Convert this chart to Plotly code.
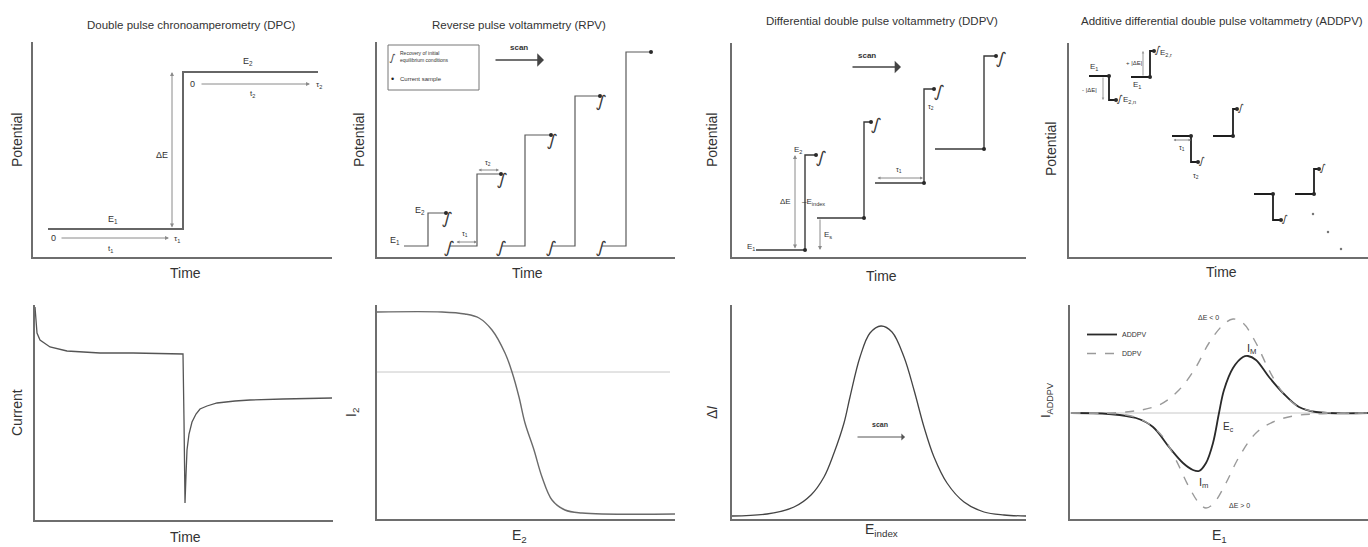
import plotly.graph_objects as go

W, H = 1368, 547
FONT = "Liberation Sans, Arial, sans-serif"
AX = "#6e6e6e"
LINE = "#555555"
DARK = "#2a2a2a"
TXT = "#333333"

# ---------------- data (panel-local units) ----------------
# DPC: potential programme
dpc_time = [15, 150, 150, 285]
dpc_potential = [28, 28, 185, 185]

# RPV: pulse sequence
rpv_start = [27, 73, 125, 175, 225]
rpv_rise = [51, 100, 148, 198, 249]
rpv_end = [69, 124, 174, 223, 274]
rpv_E1 = [11, 11, 11, 11, 11]
rpv_E2 = [44, 83, 122, 161, 205]

# DDPV: pulse sequence
ddpv_start = [24, 85, 143, 203]
ddpv_rise = [73, 132, 192, 252]
ddpv_end = [84, 139, 202, 264]
ddpv_E1 = [7, 39, 74, 108]
ddpv_E2 = [102, 135, 168, 201]

# ADDPV: pulse sequence
addpv_start = [20, 62, 103, 144, 185, 226]
addpv_rise = [40, 81, 122, 164, 204, 245]
addpv_end = [47, 85, 129, 168, 212, 250]
addpv_E1 = [181, 180, 121, 121, 63, 63]
addpv_E2 = [157, 206, 95, 148, 37, 88]
addpv_trail_t = [244, 259, 272]
addpv_trail_E = [43, 25, 8]

# DPC current transient
dpc_t = [0, 1, 2, 5, 15, 32, 65, 98, 130, 148, 149, 150, 151, 152, 154, 157, 161, 165, 172, 182, 200, 215, 248, 297]
dpc_i = [213, 197, 187, 180, 173, 169, 167, 167, 166, 166, 100, 17, 45, 70, 86, 98, 106, 111, 114, 117, 119, 120, 121, 122]

# RPV I2 vs E2
rpv_e = [0, 65, 88, 102, 115, 128, 135, 142, 148, 157, 165, 175, 188, 205, 298]
rpv_i = [207, 207, 205, 201, 189, 166, 147, 122, 96, 69, 42, 19, 9, 6, 5]
rpv_ref_e = [0, 293]
rpv_ref_i = [147, 147]

# DDPV peak
ddpv_e = [0, 35, 62, 79, 92, 102, 112, 118, 128, 138, 149, 160, 172, 182, 192, 202, 215, 232, 252, 272, 294]
ddpv_di = [3, 5, 12, 24, 42, 66, 96, 122, 162, 186, 193, 187, 162, 129, 92, 62, 36, 17, 7, 4, 3]

# ADDPV curves
addpv_e = [1, 39, 66, 83, 99, 113, 123, 129, 136, 143, 149, 154, 163, 173, 178, 186, 199, 213, 229, 246, 298]
addpv_i = [106, 105, 101, 92, 72, 56, 49, 48, 56, 76, 106, 129, 151, 162, 163, 159, 142, 126, 112, 107, 106]
ddpv_neg_e = [1, 56, 89, 109, 126, 139, 153, 163, 173, 186, 199, 213, 229, 249, 298]
ddpv_neg_i = [106, 107, 114, 129, 152, 176, 194, 200, 196, 176, 149, 126, 112, 107, 106]
ddpv_pos_e = [1, 56, 76, 93, 106, 119, 129, 136, 144, 156, 169, 186, 203, 223, 246, 298]
ddpv_pos_i = [106, 104, 97, 82, 59, 32, 16, 11, 16, 36, 62, 86, 97, 103, 105, 106]
zero_e = [0, 298]
zero_i = [106, 106]

titles = ["Double pulse chronoamperometry (DPC)", "Reverse pulse voltammetry (RPV)",
          "Differential double pulse voltammetry (DDPV)",
          "Additive differential double pulse voltammetry (ADDPV)"]

# ---------------- layout frames (pixels: y-axis x, x-axis y, right, top) ----------------
panels = {
    1: (33, 257, 332, 42),
    2: (377, 257, 675, 42),
    3: (732, 257, 1026, 43),
    4: (1069, 257, 1368, 43),
    5: (35, 520, 333, 305),
    6: (377, 519, 675, 305),
    7: (732, 519, 1026, 305),
    8: (1070, 519, 1368, 305),
}


def sfx(n):
    return "" if n == 1 else str(n)


fig = go.Figure()
layout = dict(width=W, height=H, margin=dict(l=0, r=0, t=0, b=0),
              paper_bgcolor="white", plot_bgcolor="white",
              font=dict(family=FONT, color=TXT), showlegend=True)
for n, (x0, y0, x1, yt) in panels.items():
    common = dict(showline=True, linecolor=AX, linewidth=1.6, showgrid=False,
                  zeroline=False, showticklabels=False, ticks="", fixedrange=True)
    layout["xaxis" + sfx(n)] = dict(domain=[x0 / W, x1 / W], range=[0, x1 - x0],
                                    anchor="y" + sfx(n), **common)
    layout["yaxis" + sfx(n)] = dict(domain=[1 - y0 / H, 1 - yt / H], range=[0, y0 - yt],
                                    anchor="x" + sfx(n), **common)


def add_line(n, x, y, color=LINE, width=1.3, dash="solid", name=None, legend=False, shape="linear"):
    fig.add_trace(go.Scatter(x=x, y=y, mode="lines", xaxis="x" + sfx(n), yaxis="y" + sfx(n),
                             line=dict(color=color, width=width, dash=dash, shape=shape),
                             name=name, showlegend=legend, hoverinfo="skip", cliponaxis=False))


def add_dots(n, x, y, size=4.5, color=DARK):
    fig.add_trace(go.Scatter(x=x, y=y, mode="markers", xaxis="x" + sfx(n), yaxis="y" + sfx(n),
                             marker=dict(color=color, size=size), showlegend=False,
                             hoverinfo="skip", cliponaxis=False))


def pulses(starts, rises, ends, lo, hi):
    xs, ys = [], []
    for s, r, e, a, b in zip(starts, rises, ends, lo, hi):
        xs += [s, r, r, e, None]
        ys += [a, a, b, b, None]
    return xs, ys


anns = []


def T(n, x, y, s, size=9, **kw):
    d = dict(x=x, y=y, xref="x" + sfx(n), yref="y" + sfx(n), text=s, showarrow=False,
             xanchor="center", yanchor="middle",
             font=dict(size=size, color=kw.pop("color", TXT), family=kw.pop("family", FONT)))
    d.update(kw)
    anns.append(d)


def A(n, x0, y0, x1, y1, both=False, color="#8a8a8a", width=1, head=2, size=0.8):
    anns.append(dict(x=x1, y=y1, ax=x0, ay=y0, xref="x" + sfx(n), yref="y" + sfx(n),
                     axref="x" + sfx(n), ayref="y" + sfx(n), text="", showarrow=True,
                     arrowhead=head, arrowsize=size, arrowwidth=width, arrowcolor=color,
                     arrowside="end+start" if both else "end", startarrowhead=head,
                     startarrowsize=size, standoff=0, startstandoff=0))


def P(x, y, s, size=14, angle=0, **kw):
    d = dict(x=x / W, y=1 - y / H, xref="paper", yref="paper", text=s, showarrow=False,
             xanchor="center", yanchor="middle", textangle=angle,
             font=dict(size=size, color=kw.pop("color", TXT), family=FONT))
    d.update(kw)
    anns.append(d)


def SQ(n, x, y, size=17, color="#3a3a3a"):
    # wavy "recovery of initial conditions" glyph
    T(n, x, y, "∫", size, color=color, textangle=12, family="DejaVu Sans, sans-serif")


# ---------- Panel 1: DPC ----------
add_line(1, dpc_time, dpc_potential, color="#666666", width=2)
A(1, 139, 28, 139, 185, both=True)
A(1, 27, 19, 136, 19)
A(1, 167, 173, 277, 173)
T(1, 20, 19, "0", 9)
T(1, 144, 18, "τ<sub>1</sub>", 8)
T(1, 77, 8, "t<sub>1</sub>", 8)
T(1, 159, 173, "0", 9)
T(1, 286, 172, "τ<sub>2</sub>", 8)
T(1, 219, 163, "t<sub>2</sub>", 8)
T(1, 80, 38, "E<sub>1</sub>", 9)
T(1, 215, 196, "E<sub>2</sub>", 9)
T(1, 129, 102, "ΔE", 9)

# ---------- Panel 2: RPV ----------
xs, ys = pulses(rpv_start, rpv_rise, rpv_end, rpv_E1, rpv_E2)
add_line(2, xs, ys, color="#5a5a5a", width=1.2)
add_dots(2, rpv_end, rpv_E2, size=4)
for k in range(len(rpv_end) - 1):
    SQ(2, rpv_end[k] + 1, rpv_E2[k] - 5)
for k in range(1, len(rpv_start)):
    SQ(2, rpv_start[k] - 1, rpv_E1[k] - 1)
A(2, 78, 15, 100, 15, both=True, size=0.6)
T(2, 88, 23, "τ<sub>1</sub>", 7)
A(2, 100, 87, 122, 87, both=True, size=0.6)
T(2, 111, 94, "τ<sub>2</sub>", 7)
T(2, 18, 17, "E<sub>1</sub>", 9)
T(2, 43, 47, "E<sub>2</sub>", 9)
A(2, 117, 197, 167, 197, color="#444", width=1.6, head=1, size=1.4)
T(2, 142, 210, "<b>scan</b>", 8)
SQ(2, 15, 200, size=10)
T(2, 21, 201, "Recovery of initial<br>equilibrium conditions", 5, xanchor="left", align="left")
T(2, 15, 178, "•", 9, color="#222")
T(2, 21, 178, "Current sample", 6, xanchor="left")

# ---------- Panel 3: DDPV ----------
xs, ys = pulses(ddpv_start, ddpv_rise, ddpv_end, ddpv_E1, ddpv_E2)
add_line(3, xs, ys, color="#3a3a3a", width=1.4)
add_dots(3, ddpv_rise, ddpv_E1, size=4)
add_dots(3, ddpv_end, ddpv_E2, size=4)
for k in range(len(ddpv_end)):
    SQ(3, ddpv_end[k] + 5, ddpv_E2[k] - 2)
A(3, 63, 7, 63, 102, both=True)
T(3, 53, 55, "ΔE", 8)
T(3, 68, 55, "–E<sub>index</sub>", 8, xanchor="left")
A(3, 88, 39, 88, 7)
T(3, 96, 22, "E<sub>s</sub>", 8)
A(3, 144, 79, 191, 79, both=True, size=0.6)
T(3, 167, 87, "τ<sub>1</sub>", 7)
T(3, 199, 150, "τ<sub>2</sub>", 7)
T(3, 66, 107, "E<sub>2</sub>", 8)
T(3, 19, 10, "E<sub>1</sub>", 8)
A(3, 119, 190, 169, 190, color="#444", width=1.5, head=1, size=1.4)
T(3, 135, 201, "<b>scan</b>", 8)

# ---------- Panel 4: ADDPV ----------
xs, ys = pulses(addpv_start, addpv_rise, addpv_end, addpv_E1, addpv_E2)
add_line(4, xs, ys, color="#1e1e1e", width=1.8)
add_dots(4, addpv_rise, addpv_E1, size=4)
add_dots(4, addpv_end, addpv_E2, size=4)
add_dots(4, addpv_trail_t, addpv_trail_E, size=2.5, color="#777")
for k in range(len(addpv_end)):
    SQ(4, addpv_end[k] + 3, addpv_E2[k] + 1, size=10, color="#333")
T(4, 25, 190, "E<sub>1</sub>", 8)
T(4, 20, 167, "- |ΔE|", 6)
A(4, 34, 181, 34, 157, color="#999", size=0.5)
T(4, 52, 157, "E<sub>2,n</sub>", 8, xanchor="left")
T(4, 65, 194, "+ |ΔE|", 6)
A(4, 74, 180, 74, 206, color="#999", size=0.5)
T(4, 89, 204, "E<sub>2,r</sub>", 8, xanchor="left")
T(4, 68, 172, "E<sub>1</sub>", 8)
A(4, 103, 117, 122, 117, both=True, size=0.5)
T(4, 113, 109, "τ<sub>1</sub>", 7)
T(4, 127, 81, "τ<sub>2</sub>", 7)

# ---------- Panel 5: DPC current ----------
add_line(5, dpc_t, dpc_i, color="#555", width=1.3)

# ---------- Panel 6: RPV I2 ----------
add_line(6, rpv_ref_e, rpv_ref_i, color="#c8c8c8", width=1)
add_line(6, rpv_e, rpv_i, color="#6a6a6a", width=1.4, shape="spline")

# ---------- Panel 7: DDPV peak ----------
add_line(7, ddpv_e, ddpv_di, color="#444", width=1.3, shape="spline")
A(7, 124, 82, 173, 82, color="#555", width=1, head=1, size=1.2)
T(7, 148, 94, "<b>scan</b>", 7)

# ---------- Panel 8: ADDPV ----------
add_line(8, zero_e, zero_i, color="#c8c8c8", width=1)
add_line(8, addpv_e, addpv_i, color="#2a2a2a", width=1.8, shape="spline", name="ADDPV", legend=True)
add_line(8, ddpv_neg_e, ddpv_neg_i, color="#9a9a9a", width=1.4, dash="dash", shape="spline",
         name="DDPV", legend=True)
add_line(8, ddpv_pos_e, ddpv_pos_i, color="#9a9a9a", width=1.4, dash="dash", shape="spline")
T(8, 138, 201, "ΔE < 0", 7)
T(8, 181, 170, "I<sub>M</sub>", 11)
T(8, 158, 92, "E<sub>c</sub>", 10)
T(8, 133, 36, "I<sub>m</sub>", 11)
T(8, 169, 13, "ΔE > 0", 7)

# ---------- titles and axis labels ----------
P(191, 25, titles[0], 11.5)
P(519, 25, titles[1], 11.5)
P(882, 21, titles[2], 11.5)
P(1222, 21, titles[3], 11.5)

P(17, 140, "Potential", 14, -90)
P(185, 273, "Time", 14)
P(359, 140, "Potential", 14, -90)
P(527, 273, "Time", 14)
P(712, 140, "Potential", 14, -90)
P(881, 276, "Time", 14)
P(1051, 149, "Potential", 14, -90)
P(1221, 272, "Time", 14)

P(17, 413, "Current", 14, -90)
P(185, 537, "Time", 14)
P(352, 413, "I<sub>2</sub>", 14, -90)
P(519, 536, "E<sub>2</sub>", 14)
P(712, 413, "Δ<i>I</i>", 14, -90)
P(881, 530, "E<sub>index</sub>", 14)
P(1046, 400, "I<sub>ADDPV</sub>", 13, -90)
P(1219, 536, "E<sub>1</sub>", 14)

layout["annotations"] = anns
layout["shapes"] = [dict(type="rect", xref="paper", yref="paper", x0=388 / W, x1=479 / W,
                         y0=1 - 90 / H, y1=1 - 45 / H, line=dict(color="#777", width=1))]
layout["legend"] = dict(x=1082 / W, y=1 - 320 / H, xanchor="left", yanchor="top",
                        font=dict(size=7, family=FONT, color=TXT), bgcolor="rgba(0,0,0,0)",
                        itemwidth=30, tracegroupgap=0)
fig.update_layout(**layout)
fig.write_html("out.html", config={"displayModeBar": False},
               post_script="document.body.style.margin='0';document.body.style.overflow='hidden';")
